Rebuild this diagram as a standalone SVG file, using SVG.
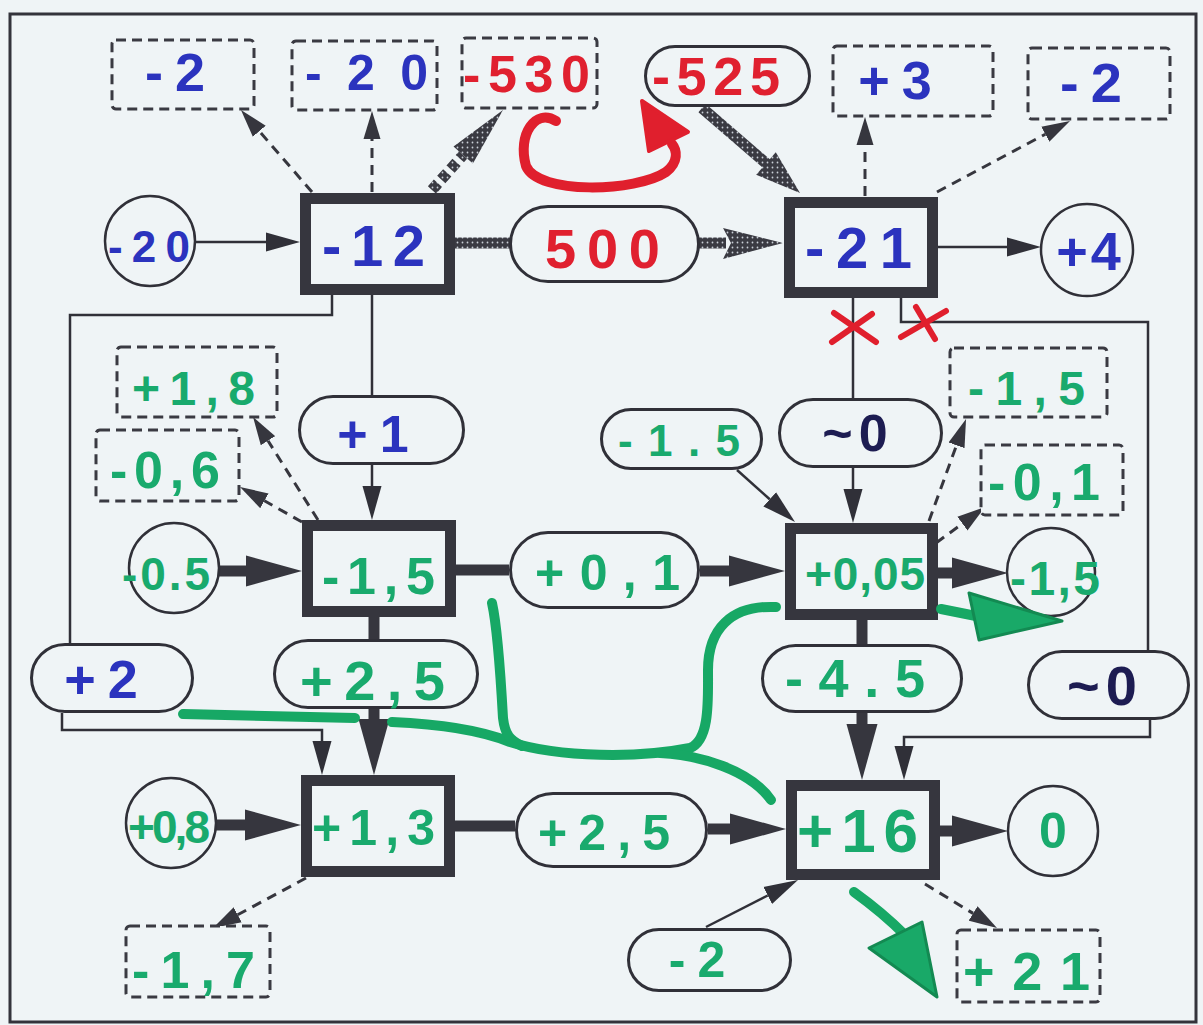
<svg xmlns="http://www.w3.org/2000/svg" width="1203" height="1025" viewBox="0 0 1203 1025">
  <style>
    .bg { fill: #eff4f6; }
    .frame { fill: none; stroke: #33333b; stroke-width: 3; }
    .box { fill: #eff4f6; stroke: #36363e; stroke-width: 11; }
    .pill { fill: #eff4f6; stroke: #303038; stroke-width: 3; }
    .dbox { fill: #eff4f6; stroke: #3a3a42; stroke-width: 3; stroke-dasharray: 10 6; }
    .circ { fill: #eff4f6; stroke: #303038; stroke-width: 2.5; }
    .thin { fill: none; stroke: #303038; stroke-width: 2.5; }
    .thick { fill: none; stroke: #36363e; stroke-width: 11; }
    .dash { fill: none; stroke: #36363e; stroke-width: 3; stroke-dasharray: 10 7; }
    .hatch { fill: url(#dots); stroke: none; }
    .hline { fill: none; stroke: url(#dots); stroke-width: 11; }
    .t { font-family: "Liberation Sans", Arial, sans-serif; font-weight: bold; }
    .c { text-anchor: middle; letter-spacing: 12px; }
    .blue { fill: #2b33be; }
    .red { fill: #e0202f; }
    .green { fill: #19aa6d; }
    .navy { fill: #1d1c52; }
    .mk-red { fill: none; stroke: #e01f2d; stroke-width: 10; stroke-linecap: round; stroke-linejoin: round; }
    .mk-x { fill: none; stroke: #e01f2d; stroke-width: 6; stroke-linecap: round; }
    .mk-green { fill: none; stroke: #17a865; stroke-width: 10; stroke-linecap: round; stroke-linejoin: round; }
    .head-red { fill: #e01f2d; stroke: #e01f2d; stroke-width: 4; stroke-linejoin: round; }
    .head-green { fill: #19a968; stroke: #138a52; stroke-width: 3; stroke-linejoin: round; }
  </style>
  <defs>
    <pattern id="dots" width="5" height="5" patternUnits="userSpaceOnUse">
      <rect width="5" height="5" fill="#3a3a42"/>
      <circle cx="2.5" cy="2.5" r="0.9" fill="#c9ced6"/>
    </pattern>
    <marker id="ah-thin" markerWidth="34" markerHeight="20" refX="0" refY="10" orient="auto" markerUnits="userSpaceOnUse">
      <path d="M0,0.5 L34,10 L0,19.5 z" fill="#303038"/>
    </marker>
    <marker id="ah-thick" markerWidth="56" markerHeight="32" refX="0" refY="16" orient="auto" markerUnits="userSpaceOnUse">
      <path d="M0,0.5 L56,16 L0,31.5 z" fill="#36363e"/>
    </marker>
    <marker id="ah-dash" markerWidth="28" markerHeight="18" refX="0" refY="9" orient="auto" markerUnits="userSpaceOnUse">
      <path d="M0,0.5 L28,9 L0,17.5 z" fill="#36363e"/>
    </marker>
  </defs>

  <rect class="bg" x="0" y="0" width="1203" height="1025"/>
  <rect class="frame" x="10" y="14" width="1186" height="1008"/>

  <g id="connectors">
    <!-- thin solid arrows -->
    <path class="thin" d="M195,242 L266,242" marker-end="url(#ah-thin)"/>
    <path class="thin" d="M938,247 L1007,247" marker-end="url(#ah-thin)"/>
    <path class="thin" d="M372,295 L372,395"/>
    <path class="thin" d="M372,465 L372,486" marker-end="url(#ah-thin)"/>
    <path class="thin" d="M853,297 L853,398"/>
    <path class="thin" d="M853,468 L853,489" marker-end="url(#ah-thin)"/>
    <path class="thin" d="M737,470 L769.7,499.3" marker-end="url(#ah-thin)"/>
    <path class="thin" d="M706,927 L767.7,895.5" marker-end="url(#ah-thin)"/>
    <path class="thin" d="M332,295 L332,315 L70,315 L70,643"/>
    <path class="thin" d="M62,713 L62,730 L322,730 L322,741" marker-end="url(#ah-thin)"/>
    <path class="thin" d="M901,297 L901,322 L1148,322 L1148,650"/>
    <path class="thin" d="M1150,720 L1150,737 L904,737 L904,746" marker-end="url(#ah-thin)"/>

    <!-- thick solid arrows and links -->
    <path class="thick" d="M219,571 L246,571" marker-end="url(#ah-thick)"/>
    <path class="thick" d="M456,570 L509,570"/>
    <path class="thick" d="M700,571 L729,571" marker-end="url(#ah-thick)"/>
    <path class="thick" d="M938,573 L952,573" marker-end="url(#ah-thick)"/>
    <path class="thick" d="M216,825 L245,825" marker-end="url(#ah-thick)"/>
    <path class="thick" d="M455,826 L515,826"/>
    <path class="thick" d="M708,829 L730,829" marker-end="url(#ah-thick)"/>
    <path class="thick" d="M940,831 L952,831" marker-end="url(#ah-thick)"/>
    <path class="thick" d="M374,617 L374,639"/>
    <path class="thick" d="M374,709 L374,719" marker-end="url(#ah-thick)"/>
    <path class="thick" d="M862,620 L862,644"/>
    <path class="thick" d="M862,713 L862,724" marker-end="url(#ah-thick)"/>

    <!-- dashed arrows -->
    <path class="dash" d="M312,192 L259.3,131.2" marker-end="url(#ah-dash)"/>
    <path class="dash" d="M372,192 L372,139" marker-end="url(#ah-dash)"/>
    <path class="dash" d="M865,196 L865,145" marker-end="url(#ah-dash)"/>
    <path class="dash" d="M937,192 L1045.3,134.2" marker-end="url(#ah-dash)"/>
    <path class="dash" d="M318,520 L268,440.7" marker-end="url(#ah-dash)"/>
    <path class="dash" d="M302,522 L264.4,500.8" marker-end="url(#ah-dash)"/>
    <path class="dash" d="M929,521 L956.5,445.3" marker-end="url(#ah-dash)"/>
    <path class="dash" d="M936,543 L962.4,523.6" marker-end="url(#ah-dash)"/>
    <path class="dash" d="M925,884 L973.1,913.4" marker-end="url(#ah-dash)"/>
    <path class="dash" d="M306,878 L237.7,914.8" marker-end="url(#ah-dash)"/>

    <!-- dotted textured arrows -->
    <path class="hline" d="M455,243 L510,243"/>
    <path class="hline" d="M699,243 L726,243" stroke-width="10"/>
    <polygon class="hatch" points="723,228 783,243 723,259 731,243"/>
    <path class="hline" d="M432,190 L463,155" stroke-width="10" stroke-dasharray="9 5"/>
    <polygon class="hatch" points="472.9,163.6 503,110 453.5,146.4 463,155"/>
    <path class="hline" d="M702,108 L768,165" stroke-width="13"/>
    <polygon class="hatch" points="756.2,174.8 800,193 775.8,152.2 766,163.5"/>
  </g>

  <g id="n-minus2-top" class="node"><rect class="dbox" x="112" y="40" width="142" height="69" rx="4"/><text class="t c blue" x="181" y="91" font-size="54">-2</text></g>
  <g id="n-minus20b" class="node"><rect class="dbox" x="292" y="41" width="145" height="69" rx="4"/><text class="t blue" x="305" y="90" font-size="50" textLength="123" lengthAdjust="spacing">-20</text></g>
  <g id="n-minus530" class="node"><rect class="dbox" x="462" y="38" width="135" height="70" rx="4"/><text class="t red" x="463" y="92" font-size="52" textLength="127" lengthAdjust="spacing">-530</text></g>
  <g id="n-minus525" class="node"><rect class="pill" x="645.5" y="46.5" width="164" height="59" rx="29.5"/><text class="t red" x="652" y="95" font-size="54" textLength="128" lengthAdjust="spacing">-525</text></g>
  <g id="n-plus3" class="node"><rect class="dbox" x="833" y="46" width="160" height="70" rx="4"/><text class="t c blue" x="901" y="99" font-size="54">+3</text></g>
  <g id="n-minus2-right" class="node"><rect class="dbox" x="1028" y="48" width="142" height="71" rx="4"/><text class="t c blue" x="1097" y="102" font-size="56">-2</text></g>

  <g id="n-in-minus20" class="node"><circle class="circ" cx="150" cy="241" r="45"/><text class="t blue" x="108" y="262" font-size="44" textLength="82" lengthAdjust="spacing">-20</text></g>
  <g id="n-minus12" class="node"><rect class="box" x="305.5" y="198.5" width="144" height="91"/><text class="t blue" x="322" y="266" font-size="58" textLength="103" lengthAdjust="spacing">-12</text></g>
  <g id="n-500" class="node"><rect class="pill" x="510.5" y="206.5" width="188" height="75" rx="37.5"/><text class="t red" x="545" y="268" font-size="56" textLength="115" lengthAdjust="spacing">500</text></g>
  <g id="n-minus21" class="node"><rect class="box" x="789.5" y="202.5" width="143" height="90"/><text class="t blue" x="805" y="268" font-size="58" textLength="107" lengthAdjust="spacing">-21</text></g>
  <g id="n-plus4" class="node"><circle class="circ" cx="1087" cy="250" r="46"/><text class="t c blue" x="1090" y="270" font-size="54" style="letter-spacing:3px">+4</text></g>

  <g id="n-plus1-8" class="node"><rect class="dbox" x="117" y="347" width="160" height="70" rx="4"/><text class="t green" x="132" y="405" font-size="48" textLength="123" lengthAdjust="spacing">+1,8</text></g>
  <g id="n-minus0-6" class="node"><rect class="dbox" x="96" y="430" width="143" height="71" rx="4"/><text class="t green" x="110" y="488" font-size="52" textLength="110" lengthAdjust="spacing">-0,6</text></g>
  <g id="n-plus1" class="node"><rect class="pill" x="299.5" y="396.5" width="164" height="67" rx="33.5"/><text class="t c blue" x="379" y="452" font-size="52">+1</text></g>
  <g id="n-minus1-5-pill" class="node"><rect class="pill" x="601.5" y="409.5" width="160" height="59" rx="29.5"/><text class="t green" x="618" y="456" font-size="44" textLength="122" lengthAdjust="spacing">-1.5</text></g>
  <g id="n-approx0" class="node"><rect class="pill" x="779.5" y="399.5" width="162" height="67" rx="33.5"/><text class="t c navy" x="858" y="451" font-size="52" style="letter-spacing:6px">~0</text></g>
  <g id="n-minus1-5-dash" class="node"><rect class="dbox" x="950" y="348" width="157" height="69" rx="4"/><text class="t green" x="968" y="405" font-size="48" textLength="117" lengthAdjust="spacing">-1,5</text></g>
  <g id="n-minus0-1" class="node"><rect class="dbox" x="981" y="445" width="142" height="70" rx="4"/><text class="t green" x="988" y="500" font-size="52" textLength="112" lengthAdjust="spacing">-0,1</text></g>

  <g id="n-in-minus0-5" class="node"><circle class="circ" cx="174" cy="568" r="45"/><text class="t green" x="122" y="590" font-size="46" textLength="88" lengthAdjust="spacing">-0.5</text></g>
  <g id="n-minus1-5" class="node"><rect class="box" x="307.5" y="525.5" width="143" height="86"/><text class="t green" x="322" y="594" font-size="52" textLength="113" lengthAdjust="spacing">-1,5</text></g>
  <g id="n-plus0-1" class="node"><rect class="pill" x="510.5" y="532.5" width="188" height="75" rx="37.5"/><text class="t green" x="535" y="590" font-size="50" textLength="145" lengthAdjust="spacing">+0,1</text></g>
  <g id="n-plus0-05" class="node"><rect class="box" x="790.5" y="528.5" width="142" height="86"/><text class="t green" x="805" y="590" font-size="46" textLength="120" lengthAdjust="spacing">+0,05</text></g>
  <g id="n-out-minus1-5" class="node"><circle class="circ" cx="1051" cy="572" r="44"/><text class="t green" x="1010" y="595" font-size="48" textLength="90" lengthAdjust="spacing">-1,5</text></g>

  <g id="n-plus2" class="node"><rect class="pill" x="31.5" y="644.5" width="161" height="67" rx="33.5"/><text class="t c blue" x="107" y="698" font-size="54">+2</text></g>
  <g id="n-plus2-5-mid" class="node"><rect class="pill" x="274.5" y="640.5" width="203" height="67" rx="33.5"/><text class="t green" x="300" y="700" font-size="56" textLength="145" lengthAdjust="spacing">+2,5</text></g>
  <g id="n-minus4-5" class="node"><rect class="pill" x="762.5" y="645.5" width="199" height="66" rx="33"/><text class="t green" x="785" y="697" font-size="54" textLength="140" lengthAdjust="spacing">-4.5</text></g>
  <g id="n-approx0-right" class="node"><rect class="pill" x="1028.5" y="651.5" width="160" height="67" rx="33.5"/><text class="t c navy" x="1105" y="705" font-size="56" style="letter-spacing:6px">~0</text></g>

  <g id="n-in-plus0-8" class="node"><circle class="circ" cx="171" cy="823" r="45"/><text class="t green" x="128" y="843" font-size="46" textLength="82" lengthAdjust="spacing">+0,8</text></g>
  <g id="n-plus1-3" class="node"><rect class="box" x="306.5" y="780.5" width="143" height="91"/><text class="t green" x="312" y="845" font-size="50" textLength="123" lengthAdjust="spacing">+1,3</text></g>
  <g id="n-plus2-5-low" class="node"><rect class="pill" x="516.5" y="793.5" width="190" height="73" rx="36.5"/><text class="t green" x="538" y="850" font-size="50" textLength="132" lengthAdjust="spacing">+2,5</text></g>
  <g id="n-plus16" class="node"><rect class="box" x="791.5" y="785.5" width="143" height="89"/><text class="t green" x="797" y="852" font-size="62" textLength="121" lengthAdjust="spacing">+16</text></g>
  <g id="n-out-0" class="node"><circle class="circ" cx="1053" cy="831" r="45"/><text class="t green" x="1053" y="848" font-size="50" text-anchor="middle">0</text></g>
  <g id="n-minus1-7" class="node"><rect class="dbox" x="126" y="926" width="144" height="71" rx="4"/><text class="t green" x="132" y="988" font-size="52" textLength="123" lengthAdjust="spacing">-1,7</text></g>
  <g id="n-minus2-low" class="node"><rect class="pill" x="628.5" y="929.5" width="162" height="61" rx="30.5"/><text class="t c green" x="703" y="977" font-size="50">-2</text></g>
  <g id="n-plus21" class="node"><rect class="dbox" x="957" y="930" width="143" height="72" rx="4"/><text class="t green" x="963" y="990" font-size="54" textLength="127" lengthAdjust="spacing">+21</text></g>

  <!-- marker-pen annotations -->
  <g id="marks">
    <path class="mk-red" d="M556,121 C536,108 517,134 526,166 C538,195 636,192 666,172 C679,162 677,150 672,144"/>
    <polygon class="head-red" points="642,101 688,132 649,151"/>
    <path class="mk-x" d="M834,313 L876,342 M832,342 L872,314"/>
    <path class="mk-x" d="M916,307 L935,339 M901,337 L946,311"/>

    <path class="mk-green" d="M183,714 L355,718" stroke-width="9"/>
    <path class="mk-green" d="M392,722 C440,724 480,730 510,742 C560,758 640,758 690,748 C710,740 708,700 708,670 C708,630 730,605 776,607"/>
    <path class="mk-green" d="M492,603 C498,630 502,700 503,718 C505,735 510,740 522,746"/>
    <path class="mk-green" d="M660,753 C700,755 750,770 771,800"/>
    <path class="mk-green" d="M941,609 L976,616" stroke-width="12"/>
    <polygon class="head-green" points="969,593 1062,621 979,640"/>
    <path class="mk-green" d="M854,892 C872,905 890,920 905,935" stroke-width="12"/>
    <polygon class="head-green" points="869,948 922,922 937,997"/>
  </g>
</svg>
